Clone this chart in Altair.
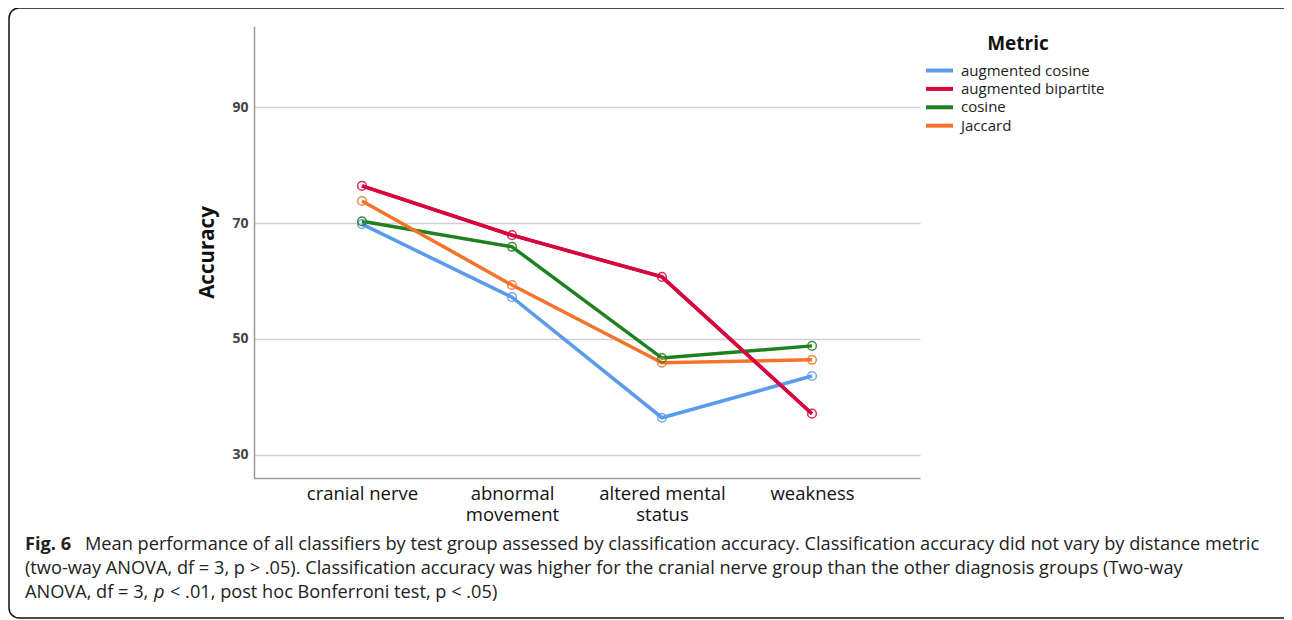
import altair as alt
import pandas as pd

groups = ["cranial nerve", "abnormal movement", "altered mental status", "weakness"]
metrics = ["augmented cosine", "augmented bipartite", "cosine", "Jaccard"]
colors = ["#5a9bec", "#d7063e", "#1f8020", "#f6732b"]

aug_cosine = [69.8, 57.2, 36.4, 43.6]
aug_bipartite = [76.4, 67.9, 60.7, 37.1]
cosine = [70.3, 65.9, 46.7, 48.8]
jaccard = [73.8, 59.3, 45.9, 46.4]

y_ticks = [30, 50, 70, 90]

caption_bold = "Fig. 6"
caption_l1 = ("Mean performance of all classifiers by test group assessed by classification accuracy. "
              "Classification accuracy did not vary by distance metric")
caption_l2 = ("(two-way ANOVA, df = 3, p > .05). Classification accuracy was higher for the cranial nerve "
              "group than the other diagnosis groups (Two-way")
caption_l3a = "ANOVA, df = 3,"
caption_l3p = "p"
caption_l3b = "< .01, post hoc Bonferroni test, p < .05)"

rows = []
for m, vals in zip(metrics, [aug_cosine, aug_bipartite, cosine, jaccard]):
    for g, v in zip(groups, vals):
        rows.append({"group": g, "Metric": m, "Accuracy": v})
df = pd.DataFrame(rows)

FONT = "Open Sans"

x_enc = alt.X(
    "group:N",
    sort=groups,
    scale=alt.Scale(type="point", padding=0.72),
    axis=alt.Axis(
        title=None, ticks=False, grid=False, domain=True, domainColor="#9a9a9a", domainWidth=1.5,
        labelFont=FONT, labelFontSize=18.5, labelColor="#111111", labelPadding=6, labelAngle=0,
        labelLineHeight=21,
        labelExpr="datum.value == 'abnormal movement' ? ['abnormal', 'movement'] : "
                  "datum.value == 'altered mental status' ? ['altered mental', 'status'] : datum.label",
    ),
)
y_enc = alt.Y(
    "Accuracy:Q",
    scale=alt.Scale(domain=[26, 104], nice=False, zero=False),
    axis=alt.Axis(
        values=y_ticks, title="Accuracy", ticks=False, grid=True, gridColor="#cfcfcf", gridWidth=1.5,
        domain=True, domainColor="#9a9a9a", domainWidth=1.5,
        labelFont=FONT, labelFontSize=14, labelFontWeight="bold", labelColor="#444444", labelPadding=6,
        titleFont=FONT, titleFontSize=20.5, titleFontWeight="bold", titleColor="#111111", titlePadding=14,
    ),
)
color_scale = alt.Scale(domain=metrics, range=colors)

lines = alt.Chart(df).mark_line(strokeWidth=3.5).encode(
    x=x_enc, y=y_enc,
    color=alt.Color(
        "Metric:N", scale=color_scale, sort=metrics,
        legend=alt.Legend(
            title="Metric", orient="none", legendX=678, legendY=9,
            symbolType="M-3,0H3", symbolSize=81, symbolStrokeWidth=4,
            labelFont=FONT, labelFontSize=15, labelColor="#222222", labelOffset=14,
            titleFont=FONT, titleFontSize=19, titleFontWeight="bold", titleColor="#111111",
            titleAnchor="middle", titlePadding=9, rowPadding=1.4,
        ),
    ),
    detail="Metric:N",
)
red_line = alt.Chart(df).transform_filter(
    alt.datum.Metric == "augmented bipartite"
).mark_line(strokeWidth=3.5).encode(
    x=x_enc, y=y_enc, color=alt.Color("Metric:N", scale=color_scale, legend=None)
)
points = alt.Chart(df).mark_point(filled=False, size=75, strokeWidth=1.5, opacity=0.85).encode(
    x=x_enc, y=y_enc, color=alt.Color("Metric:N", scale=color_scale, legend=None)
)

cap_base = alt.Chart(pd.DataFrame({"k": [0]}))
def cap(text, xpx, ypx, weight="normal", style="normal"):
    return cap_base.mark_text(
        text=text, align="left", baseline="alphabetic", font=FONT, fontSize=18.2,
        fontWeight=weight, fontStyle=style, color="#222222",
    ).encode(x=alt.value(xpx - 254), y=alt.value(ypx - 26))

frame = cap_base.mark_rect(
    fill=None, stroke="#111111", strokeWidth=1.5, cornerRadius=10
).encode(x=alt.value(9 - 254), x2=alt.value(1300 - 254), y=alt.value(8 - 26), y2=alt.value(618 - 26))

chart = alt.layer(
    frame, lines, red_line, points,
    cap(caption_bold, 25, 550, weight="bold"),
    cap(caption_l1, 85, 550),
    cap(caption_l2, 25, 574),
    cap(caption_l3a, 25, 598),
    cap(caption_l3p, 154, 598, style="italic"),
    cap(caption_l3b, 170, 598),
).properties(
    width=666, height=452,
    autosize=alt.AutoSizeParams(type="none"),
    padding={"left": 246, "top": 18, "right": 364, "bottom": 142},
).configure_view(stroke=None)

chart.save("out.html", embed_options={"renderer": "svg", "actions": False})
